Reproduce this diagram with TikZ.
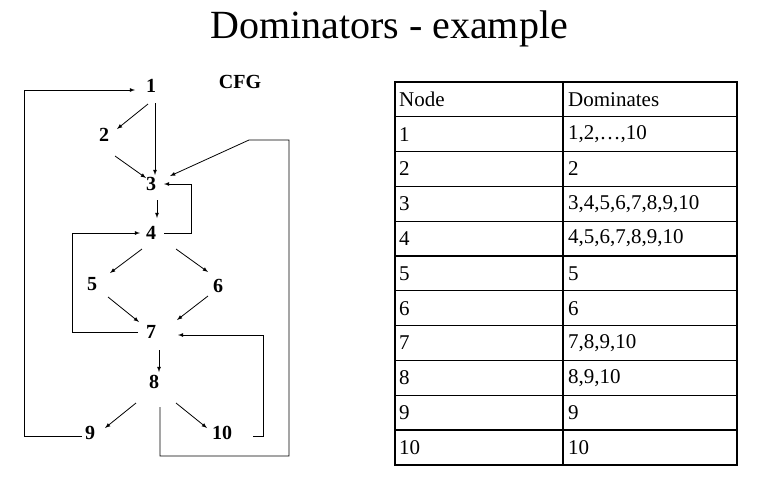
\documentclass[tikz,border=0pt]{standalone}
\usepackage{fontspec}
\setmainfont{Liberation Serif}
\begin{document}
\begin{tikzpicture}[x=1pt,y=-1pt,
  n/.style={font=\fontsize{20}{20}\selectfont\bfseries,inner sep=1pt},
  e/.style={-latex,line width=0.8pt},
  cell/.style={font=\fontsize{21}{21}\selectfont,anchor=west,inner sep=0pt}]
\useasboundingbox (0,0) rectangle (770,501);
\node (title) at (389,29) {\fontsize{40}{40}\selectfont Dominators - example};
\node[n] (cfg) at (240,82) {CFG};
\node[n] (n1) at (151,86) {1};
\node[n] (n2) at (104,135) {2};
\node[n] (n3) at (151,184) {3};
\node[n] (n4) at (151,233) {4};
\node[n] (n5) at (92,284) {5};
\node[n] (n6) at (218,286) {6};
\node[n] (n7) at (151,332) {7};
\node[n] (n8) at (154,382) {8};
\node[n] (n9) at (90,433) {9};
\node[n] (n10) at (222,433) {10};
\draw[e] (148,104) -- (117,129);
\draw[e] (155,103) -- (155,175);
\draw[e] (115,156) -- (146,178);
\draw[e] (157,200) -- (157,218);
\draw[e] (164,233) -- (191,233) -- (191,184) -- (164,184);
\draw[e] (142,249) -- (110,273);
\draw[e] (176,249) -- (208,272);
\draw[e] (108,297) -- (139,322);
\draw[e] (208,296) -- (177,320);
\draw[e] (138,332) -- (72,332) -- (72,233) -- (140,233);
\draw[e] (159,350) -- (159,372);
\draw[e] (136,403) -- (105,428);
\draw[e] (176,403) -- (207,428);
\draw[e] (253,436) -- (263,436) -- (263,335) -- (178,335);
\draw[e] (82,436) -- (24,436) -- (24,90) -- (135,90);
\draw[e] (160,407) -- (160,456) -- (289,456) -- (289,140) -- (249,140) -- (170,176);
% table
\draw[line width=1.6pt] (395,82) rectangle (737,465);
\foreach \i in {1,...,10} \draw[line width=1.2pt] (395,{82+\i*34.8}) -- (737,{82+\i*34.8});
\draw[line width=1.2pt] (563,82) -- (563,465);
\foreach [count=\i from 0] \a/\b in {Node/Dominates,1/{1,2,\dots,10},2/2,3/{3,4,5,6,7,8,9,10},4/{4,5,6,7,8,9,10},5/5,6/6,7/{7,8,9,10},8/{8,9,10},9/9,10/10}{
  \node[cell] (a\i) at (399,{99.4+\i*34.8}) {\a};
  \node[cell] (b\i) at (568,{99.4+\i*34.8}) {\b};
}
\end{tikzpicture}
\end{document}
